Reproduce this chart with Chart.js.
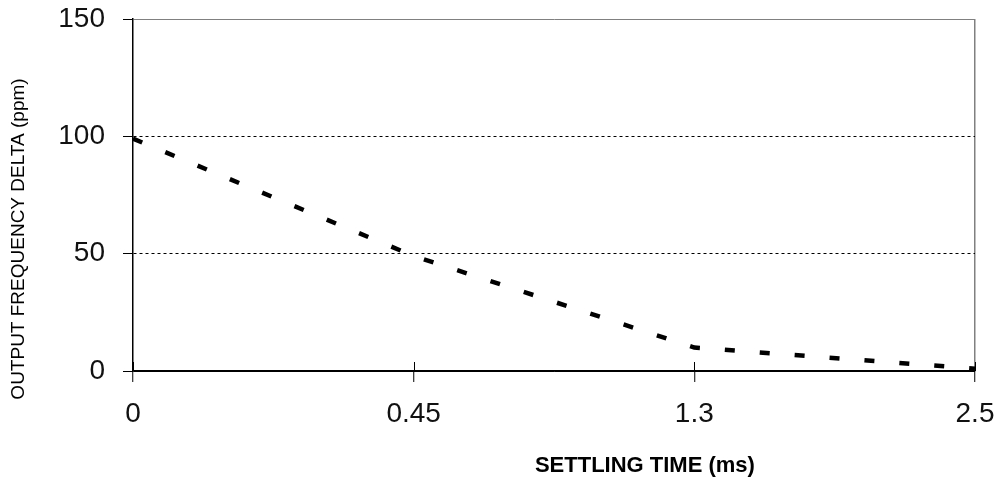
<!DOCTYPE html>
<html>
<head>
<meta charset="utf-8">
<title>Settling time</title>
<script src="https://cdn.jsdelivr.net/npm/chart.js@4.4.0/dist/chart.umd.min.js"></script>
<style>
  html, body { margin: 0; padding: 0; background: #fff; }
  canvas { display: block; }
</style>
</head>
<body>
<canvas id="settlingChart" width="1000" height="482"></canvas>
<script>
'use strict';

// #region ***  Data                                     ***********
const timeLabels = ['0', '0.45', '1.3', '2.5'];
const deltaPpm = [99, 49, 10, 1];
const yMin = 0;
const yMax = 150;
const yStep = 50;
const xTitle = 'SETTLING TIME (ms)';
const yTitle = 'OUTPUT FREQUENCY DELTA (ppm)';
// #endregion

// #region ***  Helpers                                  ***********
const fontFamily = "'Liberation Sans', Arial, sans-serif";

const gridColorY = function (ctx) {
  if (!ctx.tick) return '#000';
  if (ctx.tick.value === yMax) return '#808080';
  return '#000';
};
const gridDashY = function (ctx) {
  if (!ctx.tick) return [];
  const v = ctx.tick.value;
  return v > yMin && v < yMax ? [3, 3] : [];
};
const gridColorX = function (ctx) {
  // only the right edge of the plot gets a line
  if (ctx.index === timeLabels.length - 1) return '#808080';
  return 'rgba(0,0,0,0)';
};

// x ticks cross the axis, and the axis titles sit off-centre like the original
const axisExtras = {
  id: 'axisExtras',
  afterDraw: function (chart) {
    const ctx = chart.ctx;
    const area = chart.chartArea;
    const x = chart.scales.x;
    ctx.save();
    ctx.strokeStyle = '#000';
    ctx.lineWidth = 1;
    x.ticks.forEach(function (t, i) {
      const px = Math.round(x.getPixelForTick(i)) + 0.5;
      ctx.beginPath();
      ctx.moveTo(px, area.bottom - 9);
      ctx.lineTo(px, area.bottom);
      ctx.stroke();
    });

    ctx.fillStyle = '#000';
    ctx.textBaseline = 'middle';
    ctx.textAlign = 'center';
    ctx.font = 'bold 22px ' + fontFamily;
    ctx.fillText(xTitle, area.left + area.width * 0.608, 466);

    ctx.translate(19, area.top + area.height * 0.625);
    ctx.rotate(-Math.PI / 2);
    ctx.font = '19px ' + fontFamily;
    ctx.fillText(yTitle, 0, 0);
    ctx.restore();
  }
};
// #endregion

// #region ***  Chart                                    ***********
const showChart = function () {
  const data = {
    labels: timeLabels,
    datasets: [{
      data: deltaPpm,
      borderColor: '#000',
      borderWidth: 4.5,
      borderDash: [10, 25],
      borderCapStyle: 'butt',
      pointRadius: 0,
      tension: 0,
      fill: false
    }]
  };

  const config = {
    type: 'line',
    data: data,
    plugins: [axisExtras],
    options: {
      responsive: false,
      animation: false,
      layout: { padding: { top: 19, right: 25, left: 0, bottom: 0 } },
      plugins: {
        legend: { display: false },
        tooltip: { enabled: false }
      },
      scales: {
        x: {
          type: 'category',
          offset: false,
          afterFit: function (scale) {
            scale.height = 111;
            scale.paddingLeft = 0;
            scale.paddingRight = 0;
          },
          border: { color: '#000', width: 1.5 },
          grid: {
            color: gridColorX,
            lineWidth: 1.5,
            drawOnChartArea: true,
            tickColor: '#000',
            tickLength: 11,
            tickWidth: 1
          },
          ticks: {
            color: '#111',
            padding: 15,
            maxRotation: 0,
            autoSkip: false,
            font: { family: fontFamily, size: 28 }
          }
        },
        y: {
          min: yMin,
          max: yMax,
          afterFit: function (scale) {
            scale.width = 133;
            scale.paddingTop = 0;
            scale.paddingBottom = 0;
          },
          border: { color: '#000', width: 1.5, dash: gridDashY },
          grid: {
            color: gridColorY,
            lineWidth: 1,
            tickColor: '#000',
            tickLength: 10,
            tickWidth: 1
          },
          ticks: {
            stepSize: yStep,
            color: '#111',
            padding: 18,
            font: { family: fontFamily, size: 28 }
          }
        }
      }
    }
  };

  const ctx = document.getElementById('settlingChart').getContext('2d');
  new Chart(ctx, config);
};
// #endregion

// #region ***  Init / DOMContentLoaded                  ***********
const init = function () {
  showChart();
};

document.addEventListener('DOMContentLoaded', init);
// #endregion
</script>
</body>
</html>
